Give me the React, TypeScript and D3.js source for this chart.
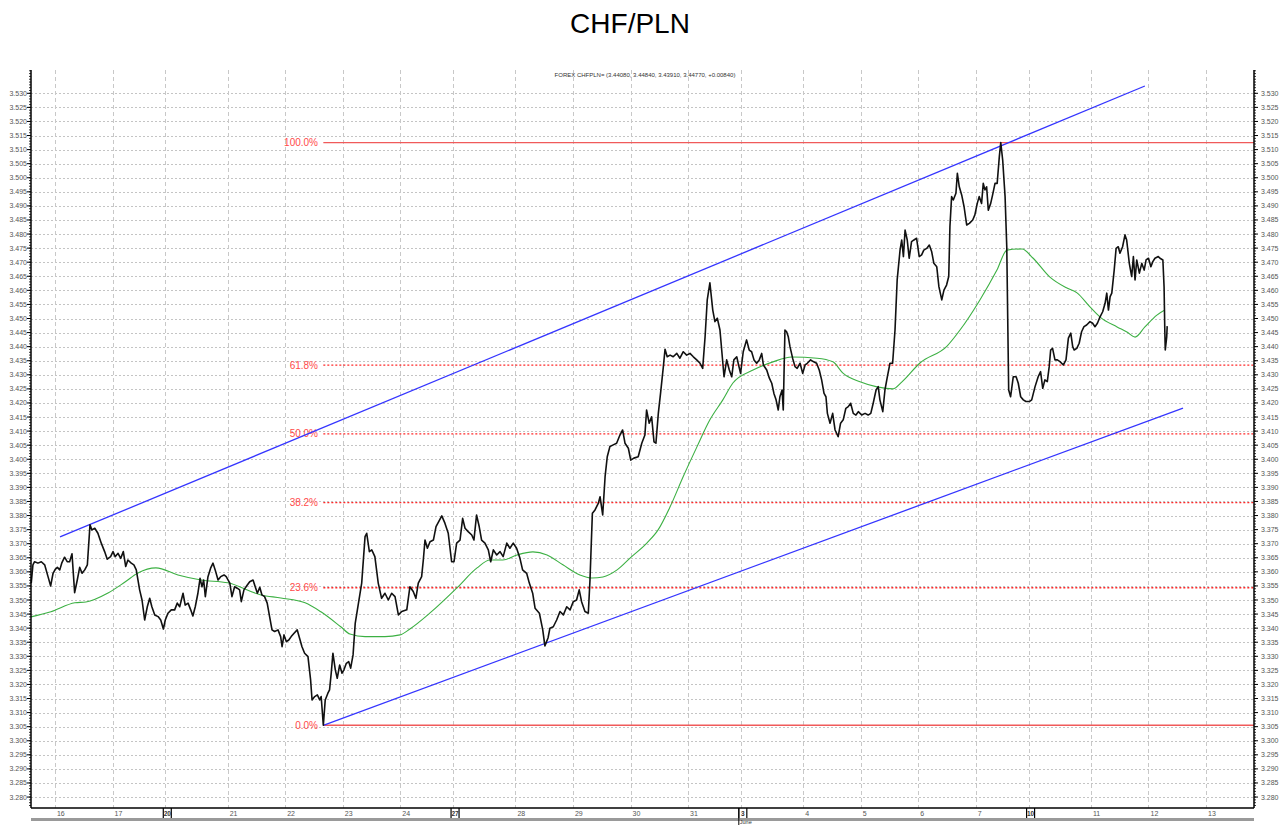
import React from "react";
import * as d3 from "d3";

const W = 1281;
const H = 825;

// Trading-day grid: label and start of each day, in session hours from 16 May 00:00
const dayLabels = ["16", "17", "20", "21", "22", "23", "24", "27", "28", "29", "30", "31", "3", "4", "5", "6", "7", "10", "11", "12", "13"];
const dayStartHours = [0, 24, 46, 72, 96, 120, 144, 166, 192, 216, 240, 264, 286, 312, 336, 360, 384, 406, 432, 456, 480];
const weekStartLabels = ["20", "27", "3", "10"];

// Hourly CHF/PLN closes: [hour, price]
const closeSeries: [number, number][] = [
  [-9.9, 3.356], [-9.2, 3.3625], [-8.5, 3.3636], [-7.1, 3.3631], [-5.7, 3.3636], [-4.3, 3.3625], [-2.9, 3.3583], [-1.8, 3.355],
  [-0.8, 3.3595], [0.1, 3.3609], [1.0, 3.3616], [2.0, 3.3607], [2.9, 3.3633], [4.0, 3.3652], [5.1, 3.3636], [6.1, 3.3636],
  [7.1, 3.3664], [8.2, 3.3526], [9.3, 3.3571], [10.3, 3.3616], [11.3, 3.3595], [12.4, 3.3607], [13.5, 3.3625], [14.6, 3.3767],
  [15.4, 3.3749], [16.6, 3.3755], [17.9, 3.3737], [19.3, 3.3702], [20.7, 3.3672], [21.8, 3.3645], [23.2, 3.3654], [24.2, 3.3672],
  [25.1, 3.3654], [26.3, 3.3666], [27.4, 3.3648], [28.5, 3.3672], [29.5, 3.3619], [30.4, 3.3642], [31.8, 3.3631], [32.9, 3.3625],
  [33.9, 3.3607], [35.3, 3.3536], [36.3, 3.35], [37.4, 3.3429], [38.5, 3.3476], [39.5, 3.3506], [40.4, 3.3476], [41.6, 3.3447],
  [43.0, 3.3441], [44.1, 3.3429], [45.2, 3.3397], [46.0, 3.3429], [47.1, 3.3453], [48.5, 3.3465], [49.9, 3.3465], [51.0, 3.3489],
  [52.0, 3.3476], [53.4, 3.3524], [54.3, 3.3482], [55.5, 3.3489], [56.6, 3.3465], [57.5, 3.3443], [58.5, 3.3476], [59.6, 3.3524],
  [60.5, 3.3577], [61.3, 3.3547], [62.0, 3.3571], [62.7, 3.3512], [63.8, 3.3583], [64.9, 3.3613], [65.9, 3.3631], [66.8, 3.3607],
  [68.0, 3.3571], [69.1, 3.3583], [70.5, 3.3589], [71.4, 3.3583], [72.9, 3.356], [73.8, 3.3512], [74.9, 3.3547], [76.0, 3.3542],
  [77.0, 3.3536], [77.7, 3.3494], [78.8, 3.3536], [80.2, 3.3553], [81.2, 3.3565], [82.6, 3.3571], [83.5, 3.3547], [84.4, 3.3524],
  [85.4, 3.3545], [86.3, 3.3518], [87.4, 3.3512], [88.5, 3.3489], [89.5, 3.3441], [90.5, 3.3394], [91.6, 3.3388], [93.0, 3.3394],
  [94.1, 3.337], [94.7, 3.3334], [95.5, 3.3376], [96.5, 3.3352], [97.5, 3.3358], [98.5, 3.337], [99.7, 3.3382], [101.0, 3.3394],
  [102.0, 3.3364], [103.0, 3.3334], [104.1, 3.3311], [105.5, 3.3299], [106.6, 3.3216], [107.2, 3.3145], [108.3, 3.3157], [109.4, 3.3163],
  [110.4, 3.3145], [111.0, 3.3157], [111.9, 3.3055], [112.7, 3.3145], [113.8, 3.3169], [114.5, 3.3181], [115.2, 3.324], [115.9, 3.3311],
  [116.9, 3.3252], [117.7, 3.3222], [118.7, 3.3269], [119.7, 3.324], [120.5, 3.3252], [121.5, 3.3275], [122.5, 3.3281], [123.3, 3.3258],
  [124.3, 3.3305], [125.2, 3.3417], [127.9, 3.356], [129.3, 3.3725], [130.0, 3.3737], [131.1, 3.3672], [132.1, 3.3678], [133.4, 3.3654],
  [134.8, 3.356], [136.2, 3.3506], [137.6, 3.3524], [139.0, 3.35], [140.4, 3.3524], [141.8, 3.3512], [143.2, 3.3447], [144.6, 3.3459],
  [146.7, 3.3465], [148.0, 3.3547], [149.4, 3.353], [150.5, 3.3506], [151.5, 3.356], [152.9, 3.3583], [153.6, 3.3642], [154.3, 3.3713],
  [155.3, 3.3684], [156.4, 3.3707], [157.8, 3.3713], [158.9, 3.3761], [161.3, 3.3799], [162.6, 3.3773], [164.0, 3.3737], [165.4, 3.3636],
  [166.4, 3.3636], [167.5, 3.3702], [168.9, 3.3713], [170.0, 3.379], [171.0, 3.3755], [172.3, 3.3743], [173.8, 3.3731], [174.7, 3.3713],
  [175.8, 3.3802], [176.9, 3.3761], [177.9, 3.3713], [179.3, 3.3702], [180.7, 3.3678], [181.7, 3.3636], [182.8, 3.3678], [184.2, 3.366],
  [185.6, 3.3672], [186.9, 3.3654], [188.4, 3.3702], [189.7, 3.3684], [191.1, 3.3702], [192.5, 3.3684], [193.9, 3.3648], [195.0, 3.3607],
  [196.7, 3.3595], [197.8, 3.356], [199.2, 3.3524], [200.2, 3.3471], [202.0, 3.3453], [203.4, 3.3394], [204.3, 3.3337], [205.6, 3.3365],
  [206.4, 3.34], [207.8, 3.3405], [209.2, 3.3429], [210.6, 3.3459], [212.0, 3.3447], [213.4, 3.3476], [214.8, 3.3465], [216.1, 3.3494],
  [217.5, 3.35], [218.6, 3.3536], [219.6, 3.3494], [221.0, 3.3459], [222.4, 3.3453], [223.1, 3.3571], [224.1, 3.3808], [225.2, 3.382],
  [226.6, 3.3844], [227.3, 3.3867], [228.4, 3.3802], [229.4, 3.3938], [230.3, 3.4009], [231.4, 3.4045], [232.8, 3.4051], [234.2, 3.4057],
  [235.6, 3.4086], [236.7, 3.4104], [237.7, 3.4057], [239.1, 3.4039], [240.1, 3.3997], [241.4, 3.4004], [243.2, 3.4009], [244.7, 3.4057],
  [246.0, 3.4086], [246.7, 3.4175], [247.8, 3.4128], [248.8, 3.4151], [249.8, 3.4062], [250.6, 3.4057], [251.6, 3.4163], [252.6, 3.424],
  [253.7, 3.4329], [254.4, 3.4391], [255.3, 3.4364], [256.5, 3.437], [257.8, 3.4364], [259.3, 3.4376], [260.6, 3.4359], [262.0, 3.4382],
  [263.4, 3.437], [264.8, 3.4376], [266.2, 3.4364], [267.6, 3.4353], [269.0, 3.4341], [270.1, 3.4323], [271.1, 3.4435], [272.0, 3.4566],
  [273.1, 3.4627], [274.3, 3.453], [275.2, 3.4489], [276.2, 3.4501], [277.3, 3.4459], [279.0, 3.4293], [280.1, 3.4353], [281.2, 3.4317],
  [282.2, 3.4293], [283.1, 3.4353], [284.3, 3.4364], [284.9, 3.4341], [285.9, 3.4305], [287.0, 3.4382], [288.4, 3.4424], [289.5, 3.4388],
  [290.5, 3.4382], [291.5, 3.4353], [292.6, 3.4341], [293.7, 3.4353], [294.7, 3.4376], [295.4, 3.4335], [296.8, 3.4317], [297.9, 3.4288],
  [298.9, 3.427], [299.8, 3.4234], [300.7, 3.4211], [301.6, 3.4175], [302.3, 3.4222], [303.2, 3.4246], [303.7, 3.4175], [304.4, 3.4459],
  [305.1, 3.4453], [305.8, 3.4435], [306.5, 3.44], [307.6, 3.4359], [308.6, 3.4329], [309.5, 3.4323], [310.7, 3.4341], [311.8, 3.4305],
  [312.8, 3.4335], [313.7, 3.4341], [315.1, 3.4353], [316.2, 3.4347], [317.6, 3.4341], [318.7, 3.4317], [319.7, 3.4282], [320.7, 3.4234],
  [321.5, 3.4222], [322.1, 3.4163], [323.2, 3.4128], [324.3, 3.4163], [325.3, 3.4104], [326.6, 3.408], [327.6, 3.4128], [328.7, 3.414],
  [329.8, 3.4181], [330.8, 3.4187], [331.8, 3.4199], [332.9, 3.4163], [334.0, 3.4157], [335.0, 3.4169], [336.4, 3.4157], [337.8, 3.4163],
  [339.1, 3.4157], [340.2, 3.4163], [341.2, 3.4199], [342.4, 3.4246], [343.3, 3.4258], [344.0, 3.4211], [345.2, 3.4169], [346.1, 3.4246],
  [347.1, 3.4293], [348.2, 3.4341], [349.3, 3.4341], [350.3, 3.4459], [351.2, 3.4637], [352.4, 3.4743], [353.1, 3.4779], [353.8, 3.472],
  [354.5, 3.4814], [355.4, 3.4779], [356.2, 3.4714], [357.2, 3.4773], [358.2, 3.4779], [359.3, 3.4785], [360.4, 3.472], [361.4, 3.4726],
  [362.3, 3.4743], [363.5, 3.4749], [364.6, 3.4761], [365.6, 3.4737], [366.5, 3.4696], [367.7, 3.4684], [368.6, 3.4613], [369.8, 3.4566],
  [370.7, 3.4601], [371.8, 3.4619], [372.7, 3.4649], [373.2, 3.4826], [373.9, 3.4933], [374.6, 3.4921], [375.7, 3.4945], [376.3, 3.5016],
  [377.1, 3.4968], [378.1, 3.4939], [379.1, 3.4897], [380.2, 3.4832], [381.3, 3.4838], [382.7, 3.485], [383.6, 3.4868], [384.6, 3.4909],
  [385.4, 3.4933], [386.4, 3.4909], [387.1, 3.498], [387.8, 3.4957], [388.5, 3.4968], [389.2, 3.4885], [390.2, 3.4909], [391.0, 3.4939],
  [392.0, 3.498], [392.9, 3.498], [393.8, 3.5075], [394.4, 3.5125], [395.2, 3.5063], [396.2, 3.4933], [396.9, 3.4755], [397.7, 3.4246],
  [398.5, 3.4222], [399.6, 3.4293], [400.8, 3.4293], [401.7, 3.427], [402.7, 3.4222], [403.8, 3.4211], [404.9, 3.4205], [406.3, 3.4205],
  [407.3, 3.4211], [408.7, 3.4258], [410.0, 3.4293], [411.0, 3.4311], [411.9, 3.4252], [412.8, 3.4282], [413.8, 3.4276], [414.6, 3.4329],
  [415.2, 3.4388], [416.0, 3.4394], [417.0, 3.4353], [418.0, 3.4353], [419.1, 3.4347], [420.5, 3.4335], [421.6, 3.4353], [422.6, 3.443],
  [423.6, 3.4448], [424.4, 3.44], [425.0, 3.4388], [426.1, 3.4394], [427.1, 3.4412], [428.1, 3.4453], [429.1, 3.4471], [430.2, 3.4477],
  [431.6, 3.4489], [432.7, 3.4483], [433.7, 3.4471], [434.7, 3.4483], [435.8, 3.4506], [436.9, 3.4524], [437.9, 3.4554], [438.6, 3.459],
  [439.3, 3.453], [440.0, 3.4578], [440.7, 3.459], [441.7, 3.4672], [442.5, 3.4749], [443.4, 3.4755], [444.1, 3.4732], [445.2, 3.4755],
  [446.2, 3.4797], [446.9, 3.4779], [448.0, 3.4696], [449.0, 3.4649], [449.7, 3.472], [450.4, 3.4637], [451.1, 3.4708], [452.2, 3.4661],
  [453.2, 3.4696], [454.2, 3.4672], [455.0, 3.4708], [456.0, 3.4714], [457.0, 3.4684], [457.8, 3.4702], [458.7, 3.4714], [460.1, 3.472],
  [460.8, 3.4714], [462.0, 3.4708], [462.5, 3.4613], [462.8, 3.4459], [463.0, 3.4388], [463.6, 3.4435], [463.8, 3.4473],
];

// Moving average (green): [hour, price]
const maSeries: [number, number][] = [
  [-10.0, 3.344], [-1.7, 3.3458], [8.3, 3.349], [12.9, 3.3493], [22.1, 3.3525], [29.2, 3.3564], [34.6, 3.3596], [42.1, 3.3614],
  [51.3, 3.3589], [60.9, 3.3571], [72.1, 3.3561], [85.9, 3.3518], [94.2, 3.3507], [104.3, 3.349], [110.9, 3.3458], [119.3, 3.3404],
  [123.0, 3.3379], [129.3, 3.337], [137.6, 3.337], [143.9, 3.3376], [148.0, 3.3397], [156.4, 3.3454], [167.6, 3.3543], [176.0, 3.3614],
  [181.4, 3.3642], [186.8, 3.3642], [192.7, 3.366], [199.3, 3.3671], [205.2, 3.366], [211.8, 3.3625], [218.9, 3.3589], [223.9, 3.3578],
  [228.5, 3.3582], [234.4, 3.3607], [239.8, 3.3649], [246.9, 3.3703], [251.5, 3.3749], [256.5, 3.3831], [261.9, 3.3937], [267.7, 3.4044],
  [273.1, 3.414], [278.5, 3.4211], [282.7, 3.4271], [291.1, 3.4317], [299.4, 3.4346], [307.3, 3.4363], [317.8, 3.4359], [324.4, 3.4346],
  [328.6, 3.4306], [335.7, 3.4275], [342.8, 3.4257], [349.5, 3.425], [353.2, 3.4275], [360.7, 3.4342], [372.0, 3.4402], [377.4, 3.4459],
  [385.7, 3.4566], [392.8, 3.4672], [397.0, 3.4743], [403.3, 3.4747], [407.8, 3.4715], [414.9, 3.4647], [422.0, 3.4608], [426.2, 3.4591],
  [431.6, 3.4541], [435.8, 3.4505], [442.9, 3.447], [447.0, 3.4452], [450.4, 3.4434], [454.5, 3.447], [459.5, 3.4512], [462.8, 3.453],
];

// Trend channel (blue): endpoints [hour, price]
const upperChannel: [number, number][] = [[2.1, 3.3724], [454.5, 3.5326]];
const lowerChannel: [number, number][] = [[111.9, 3.3055], [470.4, 3.4182]];

// Fibonacci retracement
const fibLow = 3.3055;
const fibHigh = 3.5125;
const fibStartHour = 111.9;
const fibLevels = [0, 0.236, 0.382, 0.5, 0.618, 1.0];
const fibLabels = ["0.0%", "23.6%", "38.2%", "50.0%", "61.8%", "100.0%"];

const headerText = "FOREX CHFPLN= (3.44080, 3.44840, 3.43910, 3.44770, +0.00840)";

const FONT = "Arial, 'Liberation Sans', Helvetica, sans-serif";

export default function App() {
  const left = 31;
  const right = 1254;
  const top = 70;
  const bottom = 808;

  const x = d3.scaleLinear().domain([-10, 500]).range([left, right]);
  const y = d3.scaleLinear().domain([3.27611, 3.53828]).range([bottom, top]);

  const line = d3
    .line<[number, number]>()
    .x((d) => x(d[0]))
    .y((d) => y(d[1]));
  const smooth = d3
    .line<[number, number]>()
    .x((d) => x(d[0]))
    .y((d) => y(d[1]))
    .curve(d3.curveMonotoneX);

  const majorTicks = d3.range(0, 51).map((i) => 3.28 + i * 0.005);
  const minorTicks = d3.range(0, 262).map((i) => 3.277 + i * 0.001);
  const fmt = d3.format(".3f");

  return (
    <svg
      width={W}
      height={H}
      style={{ position: "absolute", left: 0, top: 0, background: "#fff" }}
      fontFamily={FONT}
    >
      <rect x={0} y={0} width={W} height={H} fill="#fff" />
      <text x={630} y={33} textAnchor="middle" fontSize={28} fill="#000">
        CHF/PLN
      </text>

      {/* horizontal grid */}
      {majorTicks.map((t) => (
        <line
          key={"hg" + t}
          x1={left}
          x2={right}
          y1={Math.round(y(t)) + 0.5}
          y2={Math.round(y(t)) + 0.5}
          stroke="#c4c4c4"
          strokeWidth={1}
          strokeDasharray="2,2"
        />
      ))}
      {/* vertical grid */}
      {dayStartHours.map((h, i) => (
        <line
          key={"vg" + i}
          x1={Math.round(x(h)) + 0.5}
          x2={Math.round(x(h)) + 0.5}
          y1={top}
          y2={bottom}
          stroke="#c8c8c8"
          strokeWidth={1}
          strokeDasharray="4,3"
        />
      ))}

      <text x={645} y={77} textAnchor="middle" fontSize={6} fill="#333">
        {headerText}
      </text>

      {/* Fibonacci levels */}
      {fibLevels.map((lv, i) => {
        const p = fibLow + lv * (fibHigh - fibLow);
        const yy = y(p);
        const solid = lv === 0 || lv === 1;
        return (
          <g key={"fib" + i}>
            <line
              x1={x(fibStartHour)}
              x2={right}
              y1={yy}
              y2={yy}
              stroke={solid ? "#f05a5a" : "#ff2a2a"}
              strokeWidth={1.3}
              strokeDasharray={solid ? undefined : "2,2"}
            />
            <text x={318} y={yy + 3.5} textAnchor="end" fontSize={10} fill="#ff4a4a">
              {fibLabels[i]}
            </text>
          </g>
        );
      })}

      {/* channel */}
      <path d={line(upperChannel) || ""} stroke="#3535ff" strokeWidth={1.3} fill="none" />
      <path d={line(lowerChannel) || ""} stroke="#3535ff" strokeWidth={1.3} fill="none" />

      {/* moving average */}
      <path d={smooth(maSeries) || ""} stroke="#3cb043" strokeWidth={1.1} fill="none" />

      {/* price */}
      <path
        d={line(closeSeries) || ""}
        stroke="#111"
        strokeWidth={1.6}
        fill="none"
        strokeLinejoin="round"
      />

      {/* left axis */}
      <line x1={left} x2={left} y1={top} y2={bottom} stroke="#000" strokeWidth={1.5} />
      {minorTicks.map((t) => (
        <line key={"lm" + t} x1={left - 2} x2={left} y1={y(t)} y2={y(t)} stroke="#000" strokeWidth={0.8} />
      ))}
      {majorTicks.map((t) => (
        <g key={"lt" + t}>
          <line x1={left - 4} x2={left} y1={y(t)} y2={y(t)} stroke="#000" strokeWidth={1} />
          <text x={left - 4} y={y(t) + 2.5} textAnchor="end" fontSize={7} fill="#555">
            {fmt(t)}
          </text>
        </g>
      ))}

      {/* right axis */}
      <line x1={right} x2={right} y1={top} y2={bottom} stroke="#000" strokeWidth={1.5} />
      {minorTicks.map((t) => (
        <line key={"rm" + t} x1={right} x2={right + 2} y1={y(t)} y2={y(t)} stroke="#000" strokeWidth={0.8} />
      ))}
      {majorTicks.map((t) => (
        <g key={"rt" + t}>
          <line x1={right} x2={right + 4} y1={y(t)} y2={y(t)} stroke="#000" strokeWidth={1} />
          <text x={right + 7} y={y(t) + 2.5} textAnchor="start" fontSize={7} fill="#555">
            {fmt(t)}
          </text>
        </g>
      ))}

      {/* bottom axis */}
      <line x1={left} x2={right} y1={bottom} y2={bottom} stroke="#000" strokeWidth={1.5} />
      <rect x={left} y={818} width={right - left} height={3} fill="#9a9a9a" />
      {dayStartHours.map((h, i) => {
        const gx = x(h);
        const label = dayLabels[i];
        const isWeek = weekStartLabels.includes(label);
        if (isWeek) {
          return (
            <g key={"xl" + i}>
              <line x1={gx - 2} x2={gx - 2} y1={bottom} y2={818} stroke="#000" strokeWidth={1.2} />
              <line x1={gx + 6} x2={gx + 6} y1={bottom} y2={818} stroke="#000" strokeWidth={1.2} />
              <text x={gx + 2} y={816} textAnchor="middle" fontSize={6.5} fontWeight="bold" fill="#333">
                {label}
              </text>
            </g>
          );
        }
        return (
          <text key={"xl" + i} x={gx + 2} y={816} textAnchor="start" fontSize={7} fill="#555">
            {label}
          </text>
        );
      })}
      <line x1={x(286) - 2} x2={x(286) - 2} y1={bottom} y2={H} stroke="#000" strokeWidth={1} />
      <text x={x(286) - 1} y={824} fontSize={5.5} fill="#333">
        June
      </text>
    </svg>
  );
}
